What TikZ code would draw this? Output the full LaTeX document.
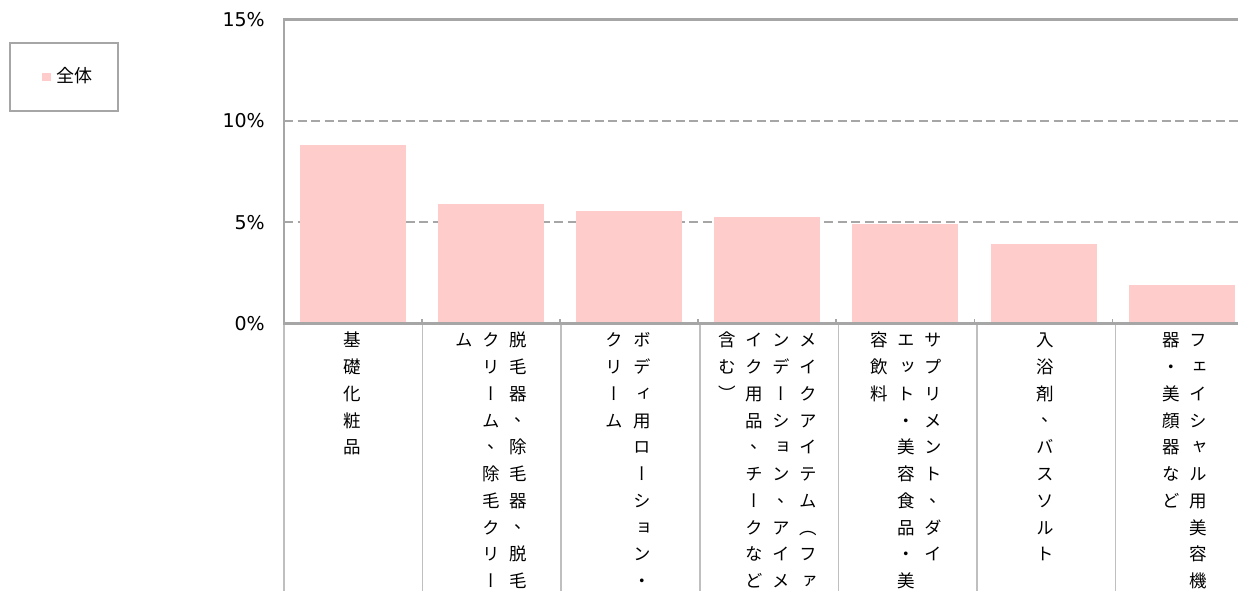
\documentclass[tikz,border=0pt]{standalone}
\usepackage{fontspec}
\newfontfamily\jpv[RawFeature=+vert]{Noto Sans CJK JP}
\newfontfamily\jph{Noto Sans CJK JP}
\newfontfamily\lab{DejaVu Sans}
\definecolor{barpink}{HTML}{FFCCCC}
\definecolor{axgray}{HTML}{A6A6A6}
\definecolor{sepgray}{HTML}{BFBFBF}
\newcommand\vcm{\makebox[1em][l]{\kern0.3em\raisebox{0.3em}{\jph 、}}}
\newcommand\st{\rule{0pt}{16pt}}
\tikzset{
  vcol/.style={anchor=north, inner sep=0pt, align=center,
    font=\jpv\fontsize{17.5}{26.75}\selectfont},
  ylab/.style={anchor=east, inner sep=0pt, font=\lab\fontsize{19}{22}\selectfont},
  grid/.style={draw=axgray, line width=1.5pt, dash pattern=on 9pt off 4.5pt},
  axis/.style={draw=axgray, line width=2.5pt},
  sep/.style={draw=sepgray, line width=1.5pt},
  bar/.style={fill=barpink}
}
\begin{document}
\begin{tikzpicture}[x=1pt,y=-1pt]
\useasboundingbox (0,0) rectangle (1238,591);
% legend
\draw[axgray, line width=2pt] (10,43) rectangle (118,111);
\fill[barpink] (42,73) rectangle (51,81);
\node[anchor=west, inner sep=0pt, font=\jph\fontsize{18}{20}\selectfont] (leg) at (56,76) {全体};
% y labels
\node[ylab] (y15) at (265,19.6) {15\%};
\node[ylab] (y10) at (265,120.9) {10\%};
\node[ylab] (y5) at (265,222.2) {5\%};
\node[ylab] (y0) at (265,323.5) {0\%};
% grid
\draw[grid] (284,120.9) -- (1238,120.9);
\draw[grid] (284,222.2) -- (1238,222.2);
% bars
\foreach \i/\t in {0/145,1/204.3,2/211.3,3/217,4/224.3,5/244,6/285}
  \fill[bar] ({300+138.1*\i},323.5) rectangle ({406+138.1*\i},\t);
% separators below axis
\foreach \i in {0,...,6}
  \draw[sep] ({284+138.6*\i},323.5) -- ({284+138.6*\i},591);
% ticks
\foreach \i in {1,...,6}
  \draw[axgray, line width=1.5pt] ({284+138.05*\i},319) -- ({284+138.05*\i},323.5);
% axes
\draw[axis] (1238,19.6) -- (284,19.6) -- (284,323.5) -- (1238,323.5);
% category labels (vertical text)
\node[vcol] (c1) at (352,330.65) {\st 基\\礎\\化\\粧\\品};
\node[vcol] (c2a) at (518,330.65) {\st 脱\\毛\\器\\\vcm\\除\\毛\\器\\\vcm\\脱\\毛};
\node[vcol] (c2b) at (491,330.65) {\st ク\\リ\\ー\\ム\\\vcm\\除\\毛\\ク\\リ\\ー};
\node[vcol] (c2c) at (464,330.65) {\st ム};
\node[vcol] (c3a) at (642,330.65) {\st ボ\\デ\\ィ\\用\\ロ\\ー\\シ\\ョ\\ン\\・};
\node[vcol] (c3b) at (614,330.65) {\st ク\\リ\\ー\\ム};
\node[vcol] (c4a) at (808,330.65) {\st メ\\イ\\ク\\ア\\イ\\テ\\ム\\︵\\フ\\ァ};
\node[vcol] (c4b) at (781,330.65) {\st ン\\デ\\ー\\シ\\ョ\\ン\\\vcm\\ア\\イ\\メ};
\node[vcol] (c4c) at (754,330.65) {\st イ\\ク\\用\\品\\\vcm\\チ\\ー\\ク\\な\\ど};
\node[vcol] (c4d) at (727,330.65) {\st 含\\む\\︶};
\node[vcol] (c5a) at (933,330.65) {\st サ\\プ\\リ\\メ\\ン\\ト\\\vcm\\ダ\\イ};
\node[vcol] (c5b) at (906,330.65) {\st エ\\ッ\\ト\\・\\美\\容\\食\\品\\・\\美};
\node[vcol] (c5c) at (879,330.65) {\st 容\\飲\\料};
\node[vcol] (c6) at (1045,330.65) {\st 入\\浴\\剤\\\vcm\\バ\\ス\\ソ\\ル\\ト};
\node[vcol] (c7a) at (1198,330.65) {\st フ\\ェ\\イ\\シ\\ャ\\ル\\用\\美\\容\\機};
\node[vcol] (c7b) at (1171,330.65) {\st 器\\・\\美\\顔\\器\\な\\ど};
\end{tikzpicture}
\end{document}
